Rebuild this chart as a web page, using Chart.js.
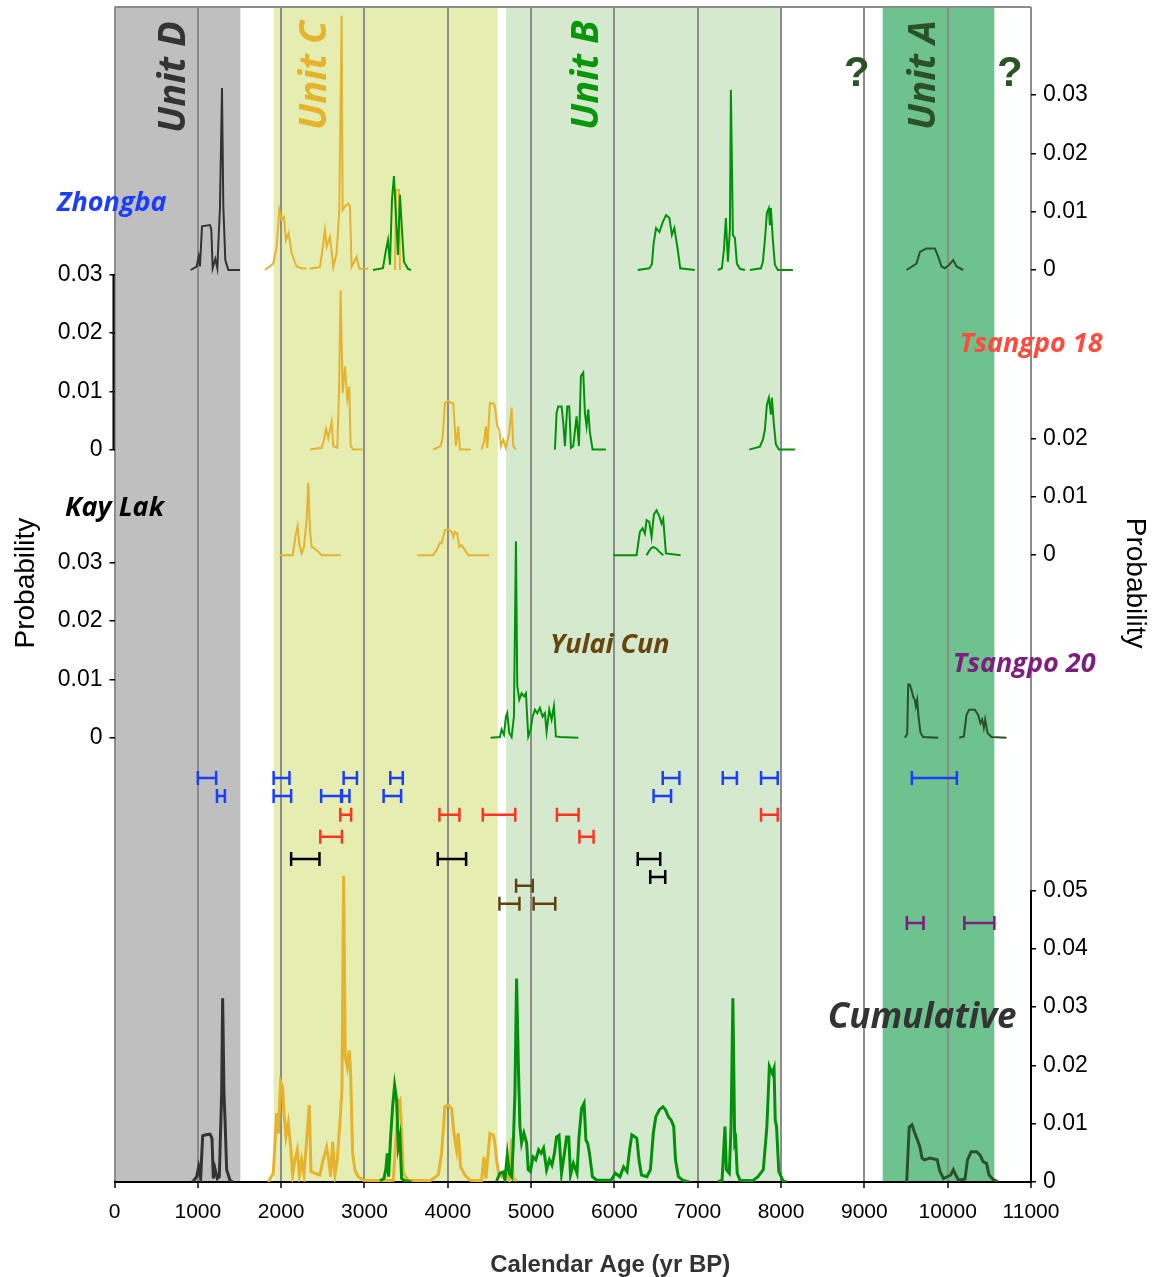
<!DOCTYPE html>
<html>
<head>
<meta charset="utf-8">
<script src="https://cdn.jsdelivr.net/npm/chart.js@4.4.1/dist/chart.umd.min.js"></script>
<style>
  body { margin: 0; background: #fff; }
  canvas { display: block; }
</style>
</head>
<body>
<canvas id="chart" width="1153" height="1277"></canvas>
<script>
// ---- data ----------------------------------------------------------------
const ageTicks = [0, 1000, 2000, 3000, 4000, 5000, 6000, 7000, 8000, 9000, 10000, 11000];
const probTickLabels = ['0', '0.01', '0.02', '0.03', '0.04', '0.05'];

// depositional units (yr BP)
const unitNames = ['Unit D', 'Unit C', 'Unit B', 'Unit A'];
const unitFrom = [0, 1910, 4700, 9220];
const unitTo = [1510, 4600, 7990, 10560];

// calibrated age probability curves, [age, probability]
const zhongbaD = [[915,0],[986,0.0006],[1010,0.0023],[1026,0.0006],[1050,0.0075],[1146,0.0077],[1162,0.0069],[1178,0.0003],[1210,0.0019],[1234,0.0003],[1266,0.0109],[1290,0.0312],[1306,0.0109],[1330,0.0017],[1366,0],[1506,0]];
const zhongbaC1 = [[1806,0],[1906,0.0011],[1946,0.004],[1978,0.0103],[2006,0.0086],[2034,0.0091],[2058,0.0051],[2090,0.0063],[2126,0.0029],[2186,0.0006],[2246,0.0003],[2306,0.0002]];
const zhongbaC2 = [[2346,0.0002],[2466,0.0005],[2490,0.0029],[2526,0.0069],[2546,0.004],[2586,0.0057],[2626,0.0005],[2666,0.0029],[2698,0.0103],[2726,0.0436],[2738,0.0103],[2766,0.0109],[2806,0.0114],[2826,0.0109],[2846,0.0005],[2906,0.0023],[2938,0.0002],[3046,0.0002]];
const zhongbaC3 = [[3366,0],[3378,0.0137],[3414,0.0137],[3426,0]];
const zhongbaB1 = [[3102,0],[3222,0.0003],[3258,0.0034],[3282,0.0051],[3306,0.0009],[3330,0.012],[3354,0.0161],[3378,0.0094],[3402,0.0026],[3426,0.0129],[3450,0.0069],[3474,0.0014],[3522,0.0002],[3558,0]];
const zhongbaB2 = [[6280,0],[6420,0.0003],[6450,0.001],[6470,0.0045],[6500,0.0072],[6540,0.0065],[6580,0.0082],[6620,0.0094],[6660,0.0089],[6690,0.006],[6720,0.0072],[6760,0.0035],[6790,0.0003],[6966,0]];
const zhongbaB3 = [[7242,0],[7290,0.0003],[7314,0.0034],[7338,0.0089],[7362,0.0014],[7386,0.0069],[7398,0.0309],[7422,0.006],[7446,0.0055],[7470,0.0011],[7506,0.0002],[7566,0]];
const zhongbaB4 = [[7626,0],[7758,0.0003],[7782,0.0014],[7806,0.0051],[7830,0.0098],[7854,0.0106],[7866,0.0077],[7878,0.0106],[7902,0.0051],[7926,0.0009],[7962,0],[8142,0]];
const zhongbaA = [[9506,0],[9626,0.0011],[9666,0.0031],[9746,0.0037],[9846,0.0037],[9886,0.0023],[9926,0.0006],[9966,0.0003],[10018,0.0009],[10066,0.0017],[10106,0.0006],[10186,0]];

const tsangpo18C1 = [[2346,0],[2486,0.0003],[2514,0.0017],[2538,0.0036],[2566,0.002],[2606,0.0048],[2626,0.0006],[2674,0.0003],[2694,0.0097],[2714,0.0273],[2738,0.0097],[2766,0.0143],[2794,0.0086],[2818,0.0108],[2834,0.0006],[2866,0],[2978,0]];
const tsangpo18C2 = [[3826,0],[3914,0.0006],[3938,0.002],[3966,0.008],[4006,0.0083],[4034,0.0081],[4066,0.0079],[4098,0.0006],[4126,0.004],[4146,0],[4274,0]];
const tsangpo18C3 = [[4406,0],[4434,0.0013],[4458,0.004],[4474,0.0003],[4506,0.008],[4546,0.0079],[4566,0.0074],[4594,0.004],[4618,0.0034],[4638,0.0006],[4666,0.0017],[4698,0.0003],[4738,0.0029],[4766,0.0072],[4786,0.0006],[4818,0]];
const tsangpo18B1 = [[5286,0],[5306,0.0063],[5326,0.0074],[5366,0.0074],[5386,0.0046],[5406,0.0006],[5434,0.0074],[5458,0.0074],[5478,0.0003],[5506,0.0006],[5546,0.0057],[5574,0.0006],[5598,0.0126],[5626,0.0132],[5646,0.0063],[5666,0.004],[5686,0.0069],[5706,0.0029],[5738,0],[5898,0]];
const tsangpo18B2 = [[7618,0],[7746,0.0005],[7782,0.0017],[7806,0.0034],[7830,0.0077],[7854,0.0089],[7878,0.006],[7890,0.0089],[7914,0.0043],[7938,0.0009],[7974,0],[8166,0]];

const kayLakC1 = [[1980,0],[2138,0],[2154,0.0014],[2174,0.0034],[2198,0.005],[2218,0.002],[2246,0.0003],[2274,0.0014],[2306,0.006],[2326,0.0124],[2346,0.0043],[2366,0.0014],[2406,0.0011],[2446,0.0006],[2486,0],[2626,0],[2714,0]];
const kayLakC2 = [[3634,0],[3826,0],[3866,0.0009],[3906,0.0021],[3926,0.002],[3966,0.0043],[4006,0.0044],[4046,0.004],[4066,0.0031],[4086,0.004],[4114,0.0037],[4138,0.0014],[4166,0.0017],[4206,0.0009],[4246,0],[4498,0]];
const kayLakB1 = [[5986,0],[6266,0],[6286,0.002],[6306,0.004],[6338,0.0046],[6366,0.0037],[6386,0.006],[6418,0.0057],[6446,0.0031],[6474,0.007],[6506,0.0077],[6538,0.0067],[6566,0.0054],[6586,0.0062],[6618,0.0003],[6794,0]];
const kayLakB2 = [[6386,0],[6434,0.0011],[6466,0.0014],[6506,0.0011],[6538,0.0006],[6586,0]];

const yulaiCunB = [[4514,0],[4626,0.0001],[4646,0.0014],[4674,0.0005],[4698,0.0036],[4714,0.0042],[4738,0.0008],[4766,0.0001],[4794,0.0036],[4818,0.0337],[4834,0.0089],[4858,0.0065],[4886,0.0076],[4914,0.0071],[4938,0.0076],[4966,0.0002],[4994,0.0014],[5018,0.0036],[5046,0.0048],[5074,0.0042],[5106,0.0051],[5138,0.0036],[5166,0.0042],[5186,0.001],[5218,0.0048],[5246,0.0031],[5274,0.0054],[5298,0.0002],[5346,0.0001],[5566,0]];

const tsangpo20A1 = [[9486,0],[9514,0.0006],[9526,0.0091],[9546,0.0091],[9566,0.0082],[9586,0.007],[9606,0.0065],[9618,0.0054],[9634,0.0065],[9650,0.0036],[9674,0.0008],[9706,0.0001],[9886,0]];
const tsangpo20A2 = [[10138,0],[10194,0.0002],[10226,0.0039],[10258,0.0048],[10326,0.0048],[10366,0.0039],[10394,0.0025],[10414,0.0031],[10434,0.0017],[10450,0.0031],[10478,0.0008],[10526,0.0001],[10706,0]];

const cumulativeD = [[938,0],[986,0.0009],[1010,0.0026],[1034,0.0006],[1058,0.0079],[1098,0.0081],[1146,0.0082],[1170,0.0075],[1186,0.0006],[1206,0.0023],[1234,0.0006],[1258,0.0009],[1286,0.0152],[1298,0.0315],[1314,0.0152],[1326,0.0109],[1346,0.0021],[1386,0.0003],[1418,0]];
const cumulativeC = [[1846,0],[1906,0.0015],[1946,0.0118],[1966,0.0083],[1994,0.0172],[2018,0.0163],[2034,0.0118],[2058,0.0078],[2086,0.0101],[2114,0.0061],[2138,0.0012],[2166,0.0038],[2194,0.0055],[2218,0.0012],[2246,0.0038],[2274,0.0012],[2306,0.0072],[2338,0.0132],[2358,0.0018],[2406,0.0015],[2466,0.0012],[2498,0.0035],[2526,0.0049],[2546,0.006],[2570,0.0038],[2594,0.0009],[2618,0.0069],[2646,0.0012],[2674,0.0038],[2706,0.0103],[2730,0.0158],[2750,0.0525],[2770,0.0214],[2794,0.0197],[2818,0.0226],[2834,0.0186],[2858,0.0049],[2886,0.002],[2926,0.0009],[2986,0.0003],[3186,0.0002],[3346,0.0003],[3406,0.0137],[3426,0.0141],[3446,0.0084],[3466,0.0015],[3526,0.0003],[3786,0.0002],[3886,0.0012],[3926,0.0049],[3966,0.0129],[4006,0.0132],[4046,0.0126],[4074,0.0084],[4106,0.0055],[4126,0.0084],[4154,0.0026],[4206,0.0012],[4266,0.0003],[4406,0.0002],[4434,0.0043],[4458,0.0006],[4506,0.0083],[4546,0.0081],[4566,0.0066],[4586,0.0038],[4610,0.0015],[4646,0.0009],[4686,0.0018],[4738,0.0003],[4766,0.0075],[4786,0.0006],[4826,0.0002]];
const cumulativeB1 = [[3186,0.0002],[3234,0.0006],[3258,0.0023],[3274,0.0049],[3290,0.0009],[3314,0.0077],[3338,0.0129],[3362,0.0166],[3386,0.0141],[3406,0.0061],[3426,0.0077],[3446,0.0006],[3486,0.0002],[3566,0]];
const cumulativeB2 = [[4586,0.0002],[4626,0.0015],[4666,0.0017],[4686,0.0003],[4714,0.0046],[4738,0.0015],[4766,0.0009],[4786,0.0063],[4806,0.0152],[4826,0.0349],[4846,0.0209],[4866,0.0095],[4886,0.0067],[4914,0.0084],[4946,0.0067],[4966,0.0021],[4992,0.0018],[5022,0.0043],[5056,0.0038],[5090,0.0055],[5120,0.0049],[5150,0.0058],[5186,0.0021],[5220,0.0038],[5250,0.0029],[5280,0.0049],[5305,0.0077],[5335,0.008],[5365,0.0015],[5400,0.0049],[5426,0.0077],[5452,0.0077],[5473,0.0012],[5508,0.0032],[5551,0.0015],[5575,0.0077],[5606,0.0126],[5636,0.0135],[5658,0.0072],[5680,0.0066],[5701,0.0049],[5736,0.0009],[5788,0.0003],[5959,0.0003],[6011,0.0015],[6067,0.0009],[6110,0.0026],[6152,0.0018],[6182,0.0055],[6209,0.0081],[6239,0.0078],[6269,0.0075],[6295,0.0038],[6325,0.0012],[6390,0.0009],[6432,0.0021],[6467,0.0084],[6497,0.0112],[6540,0.0124],[6583,0.0129],[6613,0.0124],[6648,0.0112],[6682,0.0106],[6712,0.0095],[6733,0.0038],[6768,0.0009],[6820,0.0003],[6896,0]];
const cumulativeB3 = [[7241,0],[7292,0.0003],[7327,0.0095],[7344,0.0021],[7379,0.0015],[7400,0.0095],[7422,0.0315],[7444,0.0067],[7456,0.0072],[7474,0.0015],[7507,0.0003],[7658,0.0002],[7723,0.0009],[7787,0.0021],[7830,0.0095],[7860,0.0198],[7895,0.0186],[7916,0.0195],[7930,0.0106],[7946,0.0095],[7973,0.0018],[8024,0.0002],[8066,0]];
const cumulativeA = [[9508,0],[9538,0.0094],[9572,0.0098],[9607,0.0083],[9637,0.0072],[9667,0.006],[9692,0.0041],[9722,0.0038],[9787,0.0041],[9874,0.0038],[9907,0.0018],[9950,0.0006],[9994,0.0009],[10037,0.0012],[10067,0.0021],[10097,0.0012],[10132,0.0003],[10208,0.0005],[10238,0.0038],[10282,0.0052],[10346,0.0052],[10390,0.0046],[10424,0.0035],[10466,0.0032],[10496,0.0012],[10540,0.0005],[10604,0]];

// 2-sigma calibrated age ranges, [from, to]
const zhongbaRanges1 = [[1000,1220],[1910,2100],[2750,2910],[3310,3460],[6580,6780],[7300,7470],[7760,7960],[9570,10110]];
const zhongbaRanges2 = [[1230,1325],[1910,2120],[2480,2720],[2730,2820],[3230,3440],[6470,6680]];
const tsangpo18Ranges1 = [[2710,2840],[3900,4140],[4420,4810],[5310,5570],[7760,7960]];
const tsangpo18Ranges2 = [[2470,2730],[5580,5750]];
const kayLakRanges1 = [[2120,2460],[3880,4220],[6280,6550]];
const kayLakRanges2 = [[6430,6610]];
const yulaiCunRanges1 = [[4820,5020]];
const yulaiCunRanges2 = [[4620,4860],[5030,5290]];
const tsangpo20Ranges = [[9510,9710],[10200,10560]];

// ---- layout / style ------------------------------------------------------
const Y_MAX = 0.2015;
const BASE = { zhongba: 0.1564, tsangpo18: 0.1256, kayLak: 0.1075, yulai: 0.0762, cumulative: 0 };
const ROW = [0.0693, 0.0662, 0.0630, 0.0592, 0.0554, 0.0523, 0.0508, 0.0477, 0.0444];

const BAND_COLORS = ['#bfbfbf', '#e6edb1', '#d5e9cf', '#6ec28e'];
const UNIT_COLORS = ['#333333', '#e5b32e', '#0a960a', '#2b5226'];
const C_D = '#333333', C_C = '#e5b32e', C_B = '#00930a', C_A = '#2b5226';
const BLUE = '#1b3dff', RED = '#ff3322', BLACK = '#000000', BROWN = '#5f420d', PURPLE = '#7d1d7d';
const GRID = '#8c8c8c';
const SANS = 'Liberation Sans, Arial, sans-serif';

function curve(points, base, color, width) {
  return {
    data: points.map(([age, p]) => ({ x: age, y: base + p })),
    showLine: true,
    borderColor: color,
    borderWidth: width,
    pointRadius: 0,
    tension: 0,
    fill: false,
    yAxisID: 'y'
  };
}

function rangeBars(list, row, color) {
  return list.map(([a, b]) => ({
    data: [{ x: a, y: row }, { x: b, y: row }],
    showLine: true,
    borderColor: color,
    borderWidth: 2.5,
    pointStyle: 'line',
    pointRotation: 90,
    pointRadius: 7,
    pointBorderWidth: 2.5,
    pointBorderColor: color,
    yAxisID: 'y'
  }));
}

// back-to-front
let datasets = [
  curve(zhongbaD, BASE.zhongba, C_D, 2),
  curve(zhongbaC1, BASE.zhongba, C_C, 2),
  curve(zhongbaC2, BASE.zhongba, C_C, 2),
  curve(zhongbaC3, BASE.zhongba, C_C, 2),
  curve(zhongbaB1, BASE.zhongba, C_B, 2),
  curve(zhongbaB2, BASE.zhongba, C_B, 2),
  curve(zhongbaB3, BASE.zhongba, C_B, 2),
  curve(zhongbaB4, BASE.zhongba, C_B, 2),
  curve(zhongbaA, BASE.zhongba, C_A, 2),
  curve(tsangpo18C1, BASE.tsangpo18, C_C, 2),
  curve(tsangpo18C2, BASE.tsangpo18, C_C, 2),
  curve(tsangpo18C3, BASE.tsangpo18, C_C, 2),
  curve(tsangpo18B1, BASE.tsangpo18, C_B, 2),
  curve(tsangpo18B2, BASE.tsangpo18, C_B, 2),
  curve(kayLakC1, BASE.kayLak, C_C, 2),
  curve(kayLakC2, BASE.kayLak, C_C, 2),
  curve(kayLakB1, BASE.kayLak, C_B, 2),
  curve(kayLakB2, BASE.kayLak, C_B, 2),
  curve(yulaiCunB, BASE.yulai, C_B, 2),
  curve(tsangpo20A1, BASE.yulai, C_A, 2),
  curve(tsangpo20A2, BASE.yulai, C_A, 2),
  curve(cumulativeD, BASE.cumulative, C_D, 3),
  curve(cumulativeC, BASE.cumulative, C_C, 3),
  curve(cumulativeB1, BASE.cumulative, C_B, 3),
  curve(cumulativeB2, BASE.cumulative, C_B, 3),
  curve(cumulativeB3, BASE.cumulative, C_B, 3),
  curve(cumulativeA, BASE.cumulative, C_A, 3),
  ...rangeBars(zhongbaRanges1, ROW[0], BLUE),
  ...rangeBars(zhongbaRanges2, ROW[1], BLUE),
  ...rangeBars(tsangpo18Ranges1, ROW[2], RED),
  ...rangeBars(tsangpo18Ranges2, ROW[3], RED),
  ...rangeBars(kayLakRanges1, ROW[4], BLACK),
  ...rangeBars(kayLakRanges2, ROW[5], BLACK),
  ...rangeBars(yulaiCunRanges1, ROW[6], BROWN),
  ...rangeBars(yulaiCunRanges2, ROW[7], BROWN),
  ...rangeBars(tsangpo20Ranges, ROW[8], PURPLE)
];
datasets = datasets.reverse(); // chart.js paints the first dataset last

// probability ticks for each panel, placed on the shared y scale
function panelTicks(base, count) {
  const out = [];
  for (let k = 0; k <= count; k++) out.push({ value: base + k * 0.01, label: probTickLabels[k] });
  return out;
}
const leftTicks = [...panelTicks(BASE.yulai, 3), ...panelTicks(BASE.tsangpo18, 3)];
const rightTicks = [...panelTicks(BASE.cumulative, 5), ...panelTicks(BASE.kayLak, 2), ...panelTicks(BASE.zhongba, 3)];

// keep the plot area pinned: no label overhang padding
function noOverhang(axis) {
  axis.paddingTop = 0;
  axis.paddingBottom = 0;
  axis.paddingLeft = 0;
  axis.paddingRight = 0;
}

function probAxis(position, list, width) {
  return {
    type: 'linear',
    position,
    min: 0,
    max: Y_MAX,
    afterBuildTicks: (axis) => { axis.ticks = list.map(t => ({ value: t.value })); },
    afterFit: (axis) => { axis.width = width; noOverhang(axis); },
    ticks: {
      autoSkip: false,
      padding: 7,
      color: '#000',
      font: { family: SANS, size: 23 },
      callback: (v, i) => list[i].label
    },
    grid: { drawOnChartArea: false, drawTicks: true, tickLength: 5, color: '#000', lineWidth: 1.5 },
    border: { display: false },
    title: { display: false }
  };
}

const decorations = {
  id: 'decorations',
  beforeDraw(chart) {
    const { ctx, chartArea: a, scales: { x } } = chart;
    ctx.save();
    unitFrom.forEach((from, i) => {
      const x0 = x.getPixelForValue(from);
      const x1 = x.getPixelForValue(unitTo[i]);
      ctx.fillStyle = BAND_COLORS[i];
      ctx.fillRect(x0, a.top, x1 - x0, a.bottom - a.top);
    });
    ctx.restore();
  },
  afterDraw(chart) {
    const { ctx, chartArea: a, scales: { x, y } } = chart;
    ctx.save();
    // frame top
    ctx.strokeStyle = GRID;
    ctx.lineWidth = 2;
    ctx.beginPath();
    ctx.moveTo(a.left, a.top);
    ctx.lineTo(a.right, a.top);
    ctx.stroke();

    // black spines of the Tsangpo 18 and cumulative axes
    ctx.strokeStyle = '#000';
    ctx.lineWidth = 2;
    ctx.beginPath();
    ctx.moveTo(a.left - 1, y.getPixelForValue(BASE.tsangpo18));
    ctx.lineTo(a.left - 1, y.getPixelForValue(BASE.tsangpo18 + 0.03));
    ctx.moveTo(a.right, y.getPixelForValue(0));
    ctx.lineTo(a.right, y.getPixelForValue(0.05));
    ctx.stroke();

    // axis titles
    ctx.fillStyle = '#000';
    ctx.font = `28px ${SANS}`;
    ctx.textAlign = 'center';
    ctx.textBaseline = 'middle';
    const titleY = y.getPixelForValue(0.1027);
    ctx.save();
    ctx.translate(26, titleY);
    ctx.rotate(-Math.PI / 2);
    ctx.fillText('Probability', 0, 0);
    ctx.restore();
    ctx.save();
    ctx.translate(1135, titleY);
    ctx.rotate(Math.PI / 2);
    ctx.fillText('Probability', 0, 0);
    ctx.restore();
    ctx.fillStyle = '#333';
    ctx.font = `bold 24px ${SANS}`;
    ctx.fillText('Calendar Age (yr BP)', x.getPixelForValue(5950), a.bottom + 83);

    // unit names, vertical
    const unitAnchor = [[846, 0.1799], [2538, 0.1804], [5802, 0.1804], [9846, 0.1804]];
    ctx.font = 'italic bold 38px "Open Sans", sans-serif';
    ctx.textAlign = 'left';
    ctx.textBaseline = 'alphabetic';
    unitNames.forEach((name, i) => {
      ctx.save();
      ctx.translate(x.getPixelForValue(unitAnchor[i][0]), y.getPixelForValue(unitAnchor[i][1]));
      ctx.rotate(-Math.PI / 2);
      ctx.fillStyle = UNIT_COLORS[i];
      ctx.fillText(name, 0, 0);
      ctx.restore();
    });

    // open boundaries of unit A
    ctx.font = `bold 42px ${SANS}`;
    ctx.fillStyle = C_A;
    ctx.textAlign = 'center';
    ctx.textBaseline = 'middle';
    ctx.fillText('?', x.getPixelForValue(8910), y.getPixelForValue(0.19));
    ctx.fillText('?', x.getPixelForValue(10746), y.getPixelForValue(0.19));

    // site names
    const sites = [
      ['Zhongba', -690, 0.1666, BLUE, 27],
      ['Tsangpo 18', 10146, 0.1424, '#ff4a3d', 27],
      ['Kay Lak', -594, 0.1142, '#000', 27],
      ['Yulai Cun', 5226, 0.0907, '#654510', 27],
      ['Tsangpo 20', 10062, 0.0875, PURPLE, 27],
      ['Cumulative', 8562, 0.0264, '#333333', 35]
    ];
    ctx.textAlign = 'left';
    ctx.textBaseline = 'alphabetic';
    sites.forEach(([name, age, v, color, size]) => {
      ctx.font = `italic bold ${size}px "Open Sans", sans-serif`;
      ctx.fillStyle = color;
      ctx.fillText(name, x.getPixelForValue(age), y.getPixelForValue(v));
    });
    ctx.restore();
  }
};

new Chart(document.getElementById('chart'), {
  type: 'scatter',
  data: { datasets },
  options: {
    responsive: false,
    animation: false,
    devicePixelRatio: 1,
    events: [],
    layout: { padding: { top: 7, left: 0, right: 0, bottom: 0 }, autoPadding: false },
    plugins: { legend: { display: false }, tooltip: { enabled: false } },
    scales: {
      x: {
        type: 'linear',
        position: 'bottom',
        min: 0,
        max: 11000,
        afterBuildTicks: (axis) => { axis.ticks = ageTicks.map(v => ({ value: v })); },
        afterFit: (axis) => { axis.height = 95; noOverhang(axis); },
        ticks: {
          autoSkip: false,
          maxRotation: 0,
          padding: 12,
          color: '#000',
          font: { family: SANS, size: 21 },
          callback: (v) => String(v)
        },
        grid: { color: GRID, lineWidth: 2, tickColor: '#000', tickLength: 6, tickWidth: 1.5 },
        border: { display: true, color: '#000', width: 2 },
        title: { display: false }
      },
      y: probAxis('left', leftTicks, 114.5),
      yRight: probAxis('right', rightTicks, 122)
    }
  },
  plugins: [decorations]
});
</script>
</body>
</html>
